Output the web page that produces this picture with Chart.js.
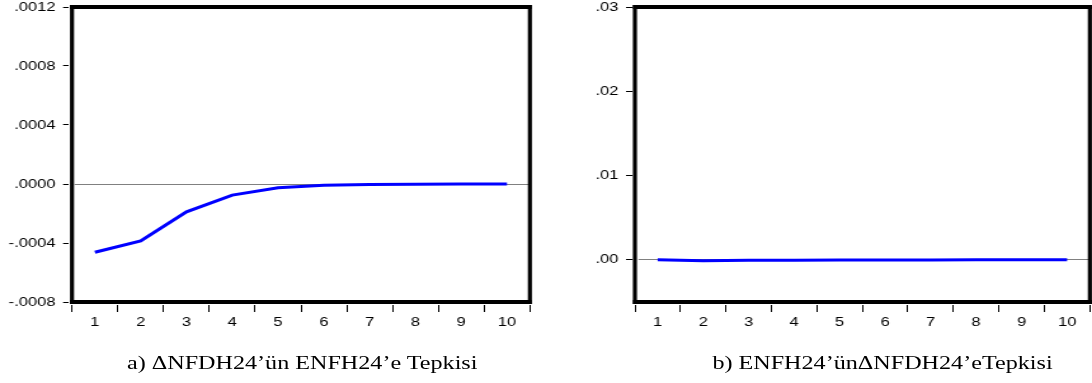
<!DOCTYPE html>
<html>
<head>
<meta charset="utf-8">
<script src="https://cdn.jsdelivr.net/npm/chart.js@4"></script>
<style>
  html, body { margin: 0; padding: 0; background: #fff; width: 1092px; height: 383px; overflow: hidden; }
  #sheet { position: absolute; left: 0; top: 0; width: 860px; height: 383px; transform: scaleX(1.2698); transform-origin: 0 0; }
  .panel { position: absolute; top: 0; width: 430px; height: 340px; }
  .caption { position: absolute; top: 353px; width: 400px; text-align: center; font-family: "Liberation Serif", "Times New Roman", serif; font-size: 19px; line-height: 19px; color: #000; white-space: nowrap; }
</style>
</head>
<body>
<div id="sheet">
  <div class="panel" style="left:0"><canvas id="chartA"></canvas></div>
  <div class="panel" style="left:430px"><canvas id="chartB"></canvas></div>
  <div class="caption" style="left:38px">a) ΔNFDH24’ün ENFH24’e Tepkisi</div>
  <div class="caption" style="left:495px">b) ENFH24’ünΔNFDH24’eTepkisi</div>
</div>
<script>
// Periods after the shock
const periods = ['1', '2', '3', '4', '5', '6', '7', '8', '9', '10'];

// Response of ΔNFDH24 to ENFH24
const responseA = [-0.000463, -0.000386, -0.000189, -0.000075, -0.000026, -0.000009, -0.000003, -0.000001, 0, 0];
// Response of ENFH24 to ΔNFDH24
const responseB = [0, -0.0001, -0.00006, -0.00004, -0.00003, -0.00002, -0.00001, 0, 0, 0];

// Vertical axis ranges, tick values and tick labels
const rangeA = [-0.0008, 0.0012];
const tickValuesA = [-0.0008, -0.0004, 0, 0.0004, 0.0008, 0.0012];
const tickLabelsA = ['-.0008', '-.0004', '.0000', '.0004', '.0008', '.0012'];

const rangeB = [-0.005, 0.03];
const tickValuesB = [0, 0.01, 0.02, 0.03];
const tickLabelsB = ['.00', '.01', '.02', '.03'];

Chart.defaults.font.family = '"Liberation Sans", Arial, sans-serif';
Chart.defaults.color = '#000';

// Heavy black box around the plotting area
const frameBox = {
  id: 'frameBox',
  afterDraw(chart) {
    const { left, top, right, bottom } = chart.chartArea;
    const ctx = chart.ctx;
    const h = 4, v = 3.2;
    ctx.save();
    ctx.fillStyle = '#000';
    ctx.fillRect(left - v / 2, top - h / 2, right - left + v, h);
    ctx.fillRect(left - v / 2, bottom - h / 2, right - left + v, h);
    ctx.fillRect(left - v / 2, top - h / 2, v, bottom - top + h);
    ctx.fillRect(right - v / 2, top - h / 2, v, bottom - top + h);
    ctx.restore();
  }
};

function makeChart(id, values, range, tickValues, tickLabels, yAxisWidth, padRight) {
  return new Chart(document.getElementById(id), {
    type: 'line',
    data: {
      labels: periods,
      datasets: [{
        data: values,
        borderColor: '#0000ff',
        borderWidth: 3,
        pointRadius: 0,
        tension: 0,
        fill: false
      }]
    },
    options: {
      responsive: true,
      maintainAspectRatio: false,
      animation: false,
      devicePixelRatio: 1,
      layout: { padding: { top: 7, right: padRight, bottom: 0, left: 0 } },
      plugins: { legend: { display: false }, tooltip: { enabled: false }, title: { display: false } },
      scales: {
        x: {
          type: 'category',
          offset: true,
          grid: { offset: true, drawOnChartArea: false, drawTicks: true, tickLength: 10, tickColor: '#000', tickWidth: 1 },
          border: { display: true, width: 6, color: 'rgba(0,0,0,0)' },
          ticks: { font: { size: 13, lineHeight: 1.2 }, padding: 3, maxRotation: 0, autoSkip: false, color: '#000' },
          afterFit(scale) { scale.height = 38; scale.paddingLeft = 0; scale.paddingRight = 0; }
        },
        y: {
          min: range[0],
          max: range[1],
          afterBuildTicks(scale) { scale.ticks = tickValues.map(v => ({ value: v })); },
          grid: {
            drawOnChartArea: true,
            drawTicks: true,
            tickLength: 7,
            tickColor: '#000',
            tickWidth: 1,
            color: ctx => (ctx.tick && ctx.tick.value === 0) ? '#808080' : 'rgba(0,0,0,0)',
            lineWidth: 1
          },
          border: { display: true, width: 4.8, color: 'rgba(0,0,0,0)' },
          ticks: {
            font: { size: 13, lineHeight: 1 },
            padding: 6,
            color: '#000',
            callback: (value, index) => tickLabels[index]
          },
          afterFit(scale) { scale.width = yAxisWidth; scale.paddingTop = 0; scale.paddingBottom = 0; }
        }
      }
    },
    plugins: [frameBox]
  });
}

makeChart('chartA', responseA, rangeA, tickValuesA, tickLabelsA, 56.7, 12.7);
makeChart('chartB', responseB, rangeB, tickValuesB, tickLabelsB, 70, 1.7);
</script>
</body>
</html>
